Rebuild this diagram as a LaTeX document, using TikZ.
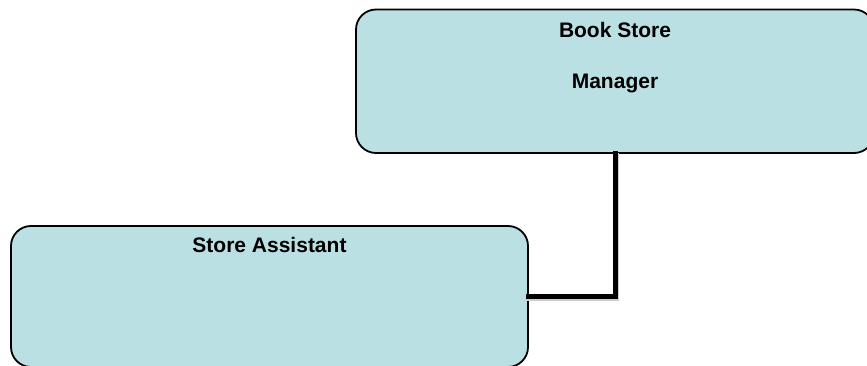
\documentclass[tikz,border=0pt]{standalone}
\usepackage{fontspec}
\setmainfont{Liberation Sans}
\definecolor{boxfill}{RGB}{187,224,227}
\tikzset{
  orgbox/.style={draw=black, line width=1.8pt, fill=boxfill, rounded corners=20pt,
    inner sep=0pt},
  boxtext/.style={font=\fontsize{21}{24}\selectfont\bfseries, anchor=base, inner sep=0pt},
  link/.style={line width=5pt, line cap=rect},
}
\begin{document}
\begin{tikzpicture}[x=1pt, y=-1pt]
  \useasboundingbox (0,0) rectangle (867,366);
  \clip (0,0) rectangle (867,366);
  % manager box, partly beyond the right edge
  \node[orgbox, minimum width=518pt, minimum height=143.5pt] (mgr) at (615,81.25) {};
  % assistant box, partly beyond the bottom edge
  \node[orgbox, minimum width=517pt, minimum height=141pt] (asst) at (269.5,296.5) {};
  \node[boxtext] (mgrA) at (615,37.3) {Book Store};
  \node[boxtext] (mgrB) at (615,88.3) {Manager};
  \node[boxtext] (asstA) at (269.5,252.3) {Store Assistant};
  % reporting line
  \draw[link, gray!40] ([xshift=1.5pt,yshift=-1.5pt]mgr.south) |- ([yshift=-1.5pt]asst.east);
  \draw[link] (mgr.south) |- (asst.east);
\end{tikzpicture}
\end{document}
